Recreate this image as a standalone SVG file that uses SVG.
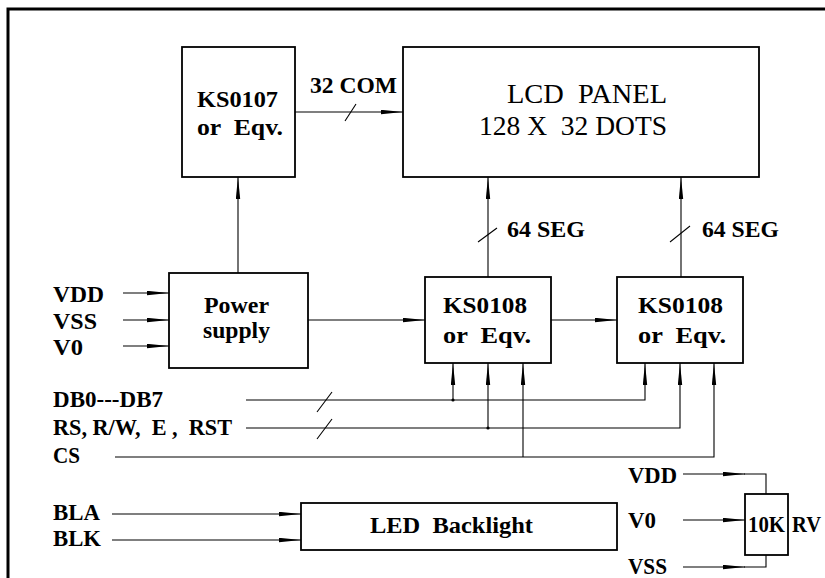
<svg xmlns="http://www.w3.org/2000/svg" width="825" height="578" viewBox="0 0 825 578">
<style>
.bx{fill:#fff;stroke:#000;stroke-width:1.8}
.ln{fill:none;stroke:#000;stroke-width:1.1}
.t{font-family:'Liberation Serif','DejaVu Serif',serif;font-weight:bold;font-size:24px;fill:#000}
.tl{font-family:'Liberation Serif','DejaVu Serif',serif;font-size:27px;fill:#000}
</style>
<defs>
<marker id="a" viewBox="0 0 22 5" markerWidth="22" markerHeight="5" refX="22" refY="2.5" orient="auto" markerUnits="userSpaceOnUse">
<path d="M0,0.3 L22,2.5 L0,4.7 z" fill="#000"/>
</marker>
</defs>
<rect x="8" y="9" width="830" height="580" fill="#fff" stroke="#000" stroke-width="3"/>

<g id="connectors">
<path class="ln" d="M295,112 H403" marker-end="url(#a)"/>
<path class="ln" d="M345,121 L356,104"/>
<path class="ln" d="M238,273 V177" marker-end="url(#a)"/>
<path class="ln" d="M123,293 H169" marker-end="url(#a)"/>
<path class="ln" d="M123,320 H169" marker-end="url(#a)"/>
<path class="ln" d="M123,346 H169" marker-end="url(#a)"/>
<path class="ln" d="M308,320 H425" marker-end="url(#a)"/>
<path class="ln" d="M551,320 H617" marker-end="url(#a)"/>
<path class="ln" d="M488,277 V177" marker-end="url(#a)"/>
<path class="ln" d="M681,277 V177" marker-end="url(#a)"/>
<path class="ln" d="M478,242 L497,228"/>
<path class="ln" d="M670,242 L690,226"/>
<path class="ln" d="M246,400 H645 V363" marker-end="url(#a)"/>
<path class="ln" d="M453,400 V363" marker-end="url(#a)"/>
<circle cx="453" cy="400" r="1.6" fill="#000"/>
<path class="ln" d="M317,412 L332,392"/>
<path class="ln" d="M246,428 H680 V363" marker-end="url(#a)"/>
<path class="ln" d="M488,428 V363" marker-end="url(#a)"/>
<circle cx="488" cy="428" r="1.6" fill="#000"/>
<path class="ln" d="M317,439 L332,419"/>
<path class="ln" d="M115,457 H714 V363" marker-end="url(#a)"/>
<path class="ln" d="M523,457 V363" marker-end="url(#a)"/>
<path class="ln" d="M112,514 H301" marker-end="url(#a)"/>
<path class="ln" d="M112,540 H301" marker-end="url(#a)"/>
<path class="ln" d="M683,474 H745" marker-end="url(#a)"/>
<path class="ln" d="M744,474 H766 V494"/>
<path class="ln" d="M683,520 H745" marker-end="url(#a)"/>
<path class="ln" d="M683,567 H745" marker-end="url(#a)"/>
<path class="ln" d="M744,567 H766 V555"/>
</g>

<g id="ks0107">
<rect class="bx" x="182" y="47" width="113" height="130"/>
<text class="t" x="197" y="107" textLength="81" lengthAdjust="spacingAndGlyphs">KS0107</text>
<text class="t" x="197" y="135" textLength="86" lengthAdjust="spacingAndGlyphs" xml:space="preserve">or  Eqv.</text>
</g>
<text class="t" x="310" y="93" textLength="87" lengthAdjust="spacingAndGlyphs">32 COM</text>

<g id="lcd">
<rect class="bx" x="403" y="47" width="356" height="130"/>
<text class="tl" x="507" y="103" textLength="160" lengthAdjust="spacingAndGlyphs" xml:space="preserve">LCD  PANEL</text>
<text class="tl" x="479" y="135" textLength="188" lengthAdjust="spacingAndGlyphs" xml:space="preserve">128 X  32 DOTS</text>
</g>
<text class="t" x="507" y="237" textLength="78" lengthAdjust="spacingAndGlyphs">64 SEG</text>
<text class="t" x="702" y="237" textLength="77" lengthAdjust="spacingAndGlyphs">64 SEG</text>

<g id="power">
<rect class="bx" x="169" y="273" width="139" height="95"/>
<text class="t" x="204" y="313" textLength="65" lengthAdjust="spacingAndGlyphs">Power</text>
<text class="t" x="203" y="338" textLength="67" lengthAdjust="spacingAndGlyphs">supply</text>
</g>

<g id="ks0108a">
<rect class="bx" x="425" y="277" width="126" height="86"/>
<text class="t" x="443" y="313" textLength="84" lengthAdjust="spacingAndGlyphs">KS0108</text>
<text class="t" x="443" y="343" textLength="88" lengthAdjust="spacingAndGlyphs" xml:space="preserve">or  Eqv.</text>
</g>
<g id="ks0108b">
<rect class="bx" x="617" y="277" width="126" height="86"/>
<text class="t" x="638" y="313" textLength="85" lengthAdjust="spacingAndGlyphs">KS0108</text>
<text class="t" x="638" y="343" textLength="88" lengthAdjust="spacingAndGlyphs" xml:space="preserve">or  Eqv.</text>
</g>

<g id="inputs">
<text class="t" x="53" y="302" textLength="51" lengthAdjust="spacingAndGlyphs">VDD</text>
<text class="t" x="53" y="329" textLength="44" lengthAdjust="spacingAndGlyphs">VSS</text>
<text class="t" x="53" y="355" textLength="30" lengthAdjust="spacingAndGlyphs">V0</text>
<text class="t" x="53" y="407" textLength="110" lengthAdjust="spacingAndGlyphs">DB0---DB7</text>
<text class="t" x="53" y="435" textLength="179" lengthAdjust="spacingAndGlyphs" xml:space="preserve">RS, R/W,  E ,  RST</text>
<text class="t" x="53" y="463" textLength="27" lengthAdjust="spacingAndGlyphs">CS</text>
<text class="t" x="53" y="520" textLength="47" lengthAdjust="spacingAndGlyphs">BLA</text>
<text class="t" x="53" y="546" textLength="48" lengthAdjust="spacingAndGlyphs">BLK</text>
</g>

<g id="backlight">
<rect class="bx" x="301" y="503" width="316" height="47"/>
<text class="t" x="370" y="533" textLength="163" lengthAdjust="spacingAndGlyphs" xml:space="preserve">LED  Backlight</text>
</g>

<g id="rv">
<rect class="bx" x="745" y="494" width="43" height="61"/>
<text class="t" x="748" y="532" textLength="37" lengthAdjust="spacingAndGlyphs">10K</text>
</g>
<text class="t" x="792" y="532" textLength="29" lengthAdjust="spacingAndGlyphs">RV</text>
<text class="t" x="628" y="483" textLength="49" lengthAdjust="spacingAndGlyphs">VDD</text>
<text class="t" x="628" y="528" textLength="28" lengthAdjust="spacingAndGlyphs">V0</text>
<text class="t" x="628" y="574" textLength="39" lengthAdjust="spacingAndGlyphs">VSS</text>
</svg>
